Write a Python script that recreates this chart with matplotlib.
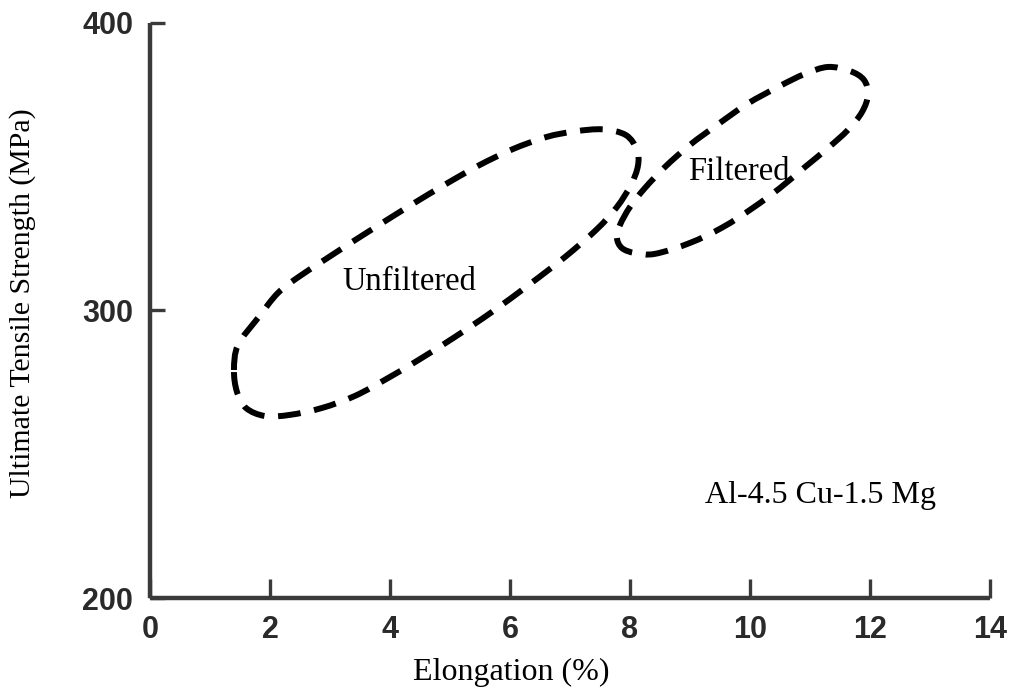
import numpy as np
import matplotlib
matplotlib.use('Agg')
import matplotlib.pyplot as plt
from matplotlib.path import Path
from matplotlib.patches import PathPatch

# ---------------------------------------------------------
# Data (outlines, elongation % / UTS MPa)
# ---------------------------------------------------------
unfilt_x = [1.400, 1.467, 1.800, 2.133, 2.500, 2.917, 3.367, 3.867, 4.367, 4.917, 5.467,
            6.033, 6.600, 7.083, 7.550, 7.933, 8.117, 8.133, 8.017, 7.783, 7.450, 6.917,
            6.333, 5.700, 5.083, 4.500, 3.967, 3.417, 2.867, 2.333, 1.917, 1.600, 1.450]
unfilt_y = [279.3, 288.0, 297.4, 306.1, 312.0, 317.7, 323.8, 330.4, 336.9, 343.8, 350.3,
            356.0, 360.3, 362.3, 363.0, 361.0, 355.8, 350.3, 343.7, 336.0, 328.3, 318.6,
            309.2, 299.5, 290.8, 283.1, 276.5, 270.3, 266.1, 263.7, 263.3, 266.1, 271.7]

filt_x = [7.783, 7.867, 8.083, 8.417, 9.000, 9.550, 10.050, 10.500, 10.917, 11.300, 11.633,
          11.867, 11.967, 11.900, 11.667, 11.300, 10.917, 10.500, 9.950, 9.450, 9.000,
          8.583, 8.250, 8.000, 7.833]
filt_y = [325.2, 321.7, 320.0, 319.7, 323.5, 329.0, 335.7, 342.6, 349.9, 356.5, 362.8,
          369.0, 375.0, 380.2, 383.3, 384.7, 382.3, 378.1, 371.8, 364.5, 357.6,
          349.9, 342.6, 336.0, 329.7]

x_ticks = [0, 2, 4, 6, 8, 10, 12, 14]
y_ticks = [200, 300, 400]

region_labels = ['Unfiltered', 'Filtered']
region_label_x = [4.32, 9.82]
region_label_y = [307.0, 345.4]
alloy_label = 'Al-4.5 Cu-1.5 Mg'


def smooth_closed_path(xs, ys):
    # closed Catmull-Rom through the read points, handed to matplotlib as cubic Beziers
    p = np.column_stack([xs, ys])
    n = len(p)
    verts = [p[0]]
    codes = [Path.MOVETO]
    for i in range(n):
        p0, p1, p2, p3 = p[i - 1], p[i], p[(i + 1) % n], p[(i + 2) % n]
        verts += [p1 + (p2 - p0) / 6.0, p2 - (p3 - p1) / 6.0, p2]
        codes += [Path.CURVE4] * 3
    return Path(verts, codes)


# ---------------------------------------------------------
# Plotting
# ---------------------------------------------------------
serif = ['Liberation Serif', 'DejaVu Serif']
axis_col = '#3a3a3a'

fig = plt.figure(figsize=(10.12, 6.9), dpi=100)
ax = fig.add_axes([0.1482, 0.1333, 0.830, 0.8334])

for xs, ys in [(unfilt_x, unfilt_y), (filt_x, filt_y)]:
    patch = PathPatch(smooth_closed_path(xs, ys), fill=False, edgecolor='black',
                      lw=4.3, linestyle=(0, (3.8, 2.3)), capstyle='butt', joinstyle='round')
    ax.add_patch(patch)

for txt, tx, ty in zip(region_labels, region_label_x, region_label_y):
    ax.text(tx, ty, txt, ha='center', va='baseline', fontsize=23.5, family=serif)
ax.text(9.25, 233.0, alloy_label, ha='left', va='baseline', fontsize=23, family=serif)

ax.set_xlim(0, 14)
ax.set_ylim(200, 400)
ax.set_xticks(x_ticks)
ax.set_yticks(y_ticks)
ax.set_xticklabels([str(v) for v in x_ticks])
ax.set_yticklabels([str(v) for v in y_ticks])

for lab in ax.get_xticklabels() + ax.get_yticklabels():
    lab.set_family(['Liberation Sans', 'DejaVu Sans'])
    lab.set_fontweight('bold')
    lab.set_fontsize(22)
    lab.set_color('#2a2a2a')

ax.tick_params(axis='x', direction='in', length=14, width=2.4, color=axis_col, pad=12)
ax.tick_params(axis='y', direction='in', length=11, width=2.4, color=axis_col, pad=12)

ax.spines['top'].set_visible(False)
ax.spines['right'].set_visible(False)
for side in ['left', 'bottom']:
    ax.spines[side].set_linewidth(3.2)
    ax.spines[side].set_color(axis_col)
    ax.spines[side].set_capstyle('butt')

ax.set_xlabel('Elongation (%)', fontsize=23, family=serif)
ax.xaxis.set_label_coords(0.43, -0.1426)
ax.xaxis.label.set_va('baseline')

ax.set_ylabel('Ultimate Tensile Strength (MPa)', fontsize=21.5, family=serif)
ax.yaxis.set_label_coords(-0.152, 0.513)
ax.yaxis.label.set_va('center')
ax.yaxis.label.set_ha('center')

fig.savefig('out.png', dpi=100)
